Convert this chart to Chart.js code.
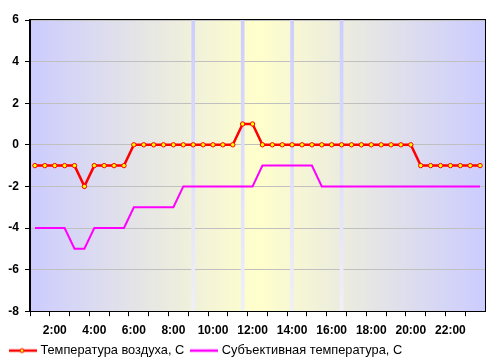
<!DOCTYPE html>
<html>
<head>
<meta charset="utf-8">
<script src="https://cdn.jsdelivr.net/npm/chart.js@4.4.1/dist/chart.umd.min.js"></script>
<style>
  html, body { margin: 0; padding: 0; background: #fff; }
  #wrap { width: 497px; height: 364px; }
</style>
</head>
<body>
<div id="wrap"><canvas id="myChart" width="497" height="364"></canvas></div>
<script>
// half-hour steps, 1:00 .. 23:30
var times = [
  "1:00", "1:30", "2:00", "2:30", "3:00", "3:30", "4:00", "4:30", "5:00", "5:30",
  "6:00", "6:30", "7:00", "7:30", "8:00", "8:30", "9:00", "9:30", "10:00", "10:30",
  "11:00", "11:30", "12:00", "12:30", "13:00", "13:30", "14:00", "14:30", "15:00", "15:30",
  "16:00", "16:30", "17:00", "17:30", "18:00", "18:30", "19:00", "19:30", "20:00", "20:30",
  "21:00", "21:30", "22:00", "22:30", "23:00", "23:30"
];
var airTemp = [
  -1, -1, -1, -1, -1, -2, -1, -1, -1, -1,
  0, 0, 0, 0, 0, 0, 0, 0, 0, 0,
  0, 1, 1, 0, 0, 0, 0, 0, 0, 0,
  0, 0, 0, 0, 0, 0, 0, 0, 0, -1,
  -1, -1, -1, -1, -1, -1
];
var feltTemp = [
  -4, -4, -4, -4, -5, -5, -4, -4, -4, -4,
  -3, -3, -3, -3, -3, -2, -2, -2, -2, -2,
  -2, -2, -2, -1, -1, -1, -1, -1, -1, -2,
  -2, -2, -2, -2, -2, -2, -2, -2, -2, -2,
  -2, -2, -2, -2, -2, -2
];
var markTimes = ["9:00", "11:30", "14:00", "16:30"];
var seriesNames = ["Температура воздуха, С", "Субъективная температура, С"];
var yMin = -8, yMax = 6, yStep = 2;

function legendLine(color, marker) {
  var c = document.createElement("canvas");
  c.width = 28;
  c.height = 8;
  var g = c.getContext("2d");
  g.strokeStyle = color;
  g.lineWidth = 2.5;
  g.beginPath();
  g.moveTo(0, 4);
  g.lineTo(28, 4);
  g.stroke();
  if (marker) {
    g.fillStyle = "#ffff00";
    g.lineWidth = 1;
    g.beginPath();
    g.arc(13, 4, 2, 0, Math.PI * 2);
    g.fill();
    g.stroke();
  }
  return c;
}
var legendIcons = [legendLine("#ff0000", true), legendLine("#ff00ff", false)];

var plotBackground = {
  id: "plotBackground",
  beforeDraw: function (chart) {
    var a = chart.chartArea;
    var ctx = chart.ctx;
    var grad = ctx.createLinearGradient(a.left, 0, a.right, 0);
    grad.addColorStop(0, "#ccccff");
    grad.addColorStop(0.5, "#ffffcc");
    grad.addColorStop(1, "#ccccff");
    ctx.save();
    ctx.fillStyle = grad;
    ctx.fillRect(a.left, a.top, a.right - a.left, a.bottom - a.top);
    ctx.restore();
  },
  afterDraw: function (chart) {
    var a = chart.chartArea;
    var ctx = chart.ctx;
    ctx.save();
    ctx.strokeStyle = "#000";
    ctx.lineWidth = 1;
    ctx.strokeRect(Math.round(a.left) - 0.5, Math.round(a.top) - 0.5,
      Math.round(a.right - a.left) + 1, Math.round(a.bottom - a.top) + 1);
    ctx.restore();
  }
};

var ctx = document.getElementById("myChart").getContext("2d");
var myChart = new Chart(ctx, {
  type: "line",
  plugins: [plotBackground],
  data: {
    labels: times,
    datasets: [
      {
        label: seriesNames[0],
        data: airTemp,
        borderColor: "#ff0000",
        borderWidth: 2.5,
        pointRadius: 2.2,
        pointBackgroundColor: "#ffff00",
        pointBorderColor: "#ff0000",
        pointBorderWidth: 1,
        tension: 0,
        fill: false,
        order: 0
      },
      {
        label: seriesNames[1],
        data: feltTemp,
        borderColor: "#ff00ff",
        borderWidth: 2,
        pointRadius: 0,
        tension: 0,
        fill: false,
        order: 0
      },
      {
        type: "bar",
        label: "marks",
        data: markTimes.map(function (t) { return { x: t, y: [yMin, yMax] }; }),
        barThickness: 3,
        borderWidth: 0,
        backgroundColor: function (context) {
          var a = context.chart.chartArea;
          if (!a) return "#ccccff";
          var g = context.chart.ctx.createLinearGradient(0, a.top, 0, a.bottom);
          g.addColorStop(0, "#ccccff");
          g.addColorStop(1, "#f0f0f8");
          return g;
        },
        order: 1
      }
    ]
  },
  options: {
    responsive: false,
    animation: false,
    layout: { padding: { left: 3, right: 12, top: 20, bottom: -3 } },
    plugins: {
      tooltip: { enabled: false },
      legend: {
        position: "bottom",
        align: "start",
        labels: {
          filter: function (item) { return item.datasetIndex < 2; },
          generateLabels: function (chart) {
            return chart.data.datasets.slice(0, 2).map(function (ds, i) {
              return {
                text: ds.label,
                datasetIndex: i,
                pointStyle: legendIcons[i],
                fontColor: "#000",
                lineWidth: 0,
                hidden: false
              };
            });
          },
          usePointStyle: true,
          pointStyleWidth: 22,
          boxHeight: 8,
          padding: 9,
          color: "#000",
          font: { family: "Liberation Sans", size: 12.8 }
        }
      }
    },
    scales: {
      x: {
        type: "category",
        offset: true,
        afterFit: function (scale) { scale.height = 24; },
        border: { color: "#000", width: 1 },
        grid: {
          offset: true,
          drawOnChartArea: false,
          tickLength: 5,
          tickColor: function (c) { return c.index % 2 === 0 ? "#000" : "rgba(0,0,0,0)"; }
        },
        ticks: {
          autoSkip: false,
          maxRotation: 0,
          padding: 7,
          color: "#000",
          font: { family: "Liberation Sans", size: 12, weight: "bold" },
          callback: function (v, i) { return i % 4 === 2 ? times[i] : ""; }
        }
      },
      y: {
        min: yMin,
        max: yMax,
        afterFit: function (scale) { scale.width = 27; },
        border: { color: "#000", width: 1 },
        grid: { color: "#c0c0c0", tickColor: "#000", tickLength: 5 },
        ticks: {
          stepSize: yStep,
          padding: 6,
          color: "#000",
          font: { family: "Liberation Sans", size: 12, weight: "bold" }
        }
      }
    }
  }
});
</script>
</body>
</html>
